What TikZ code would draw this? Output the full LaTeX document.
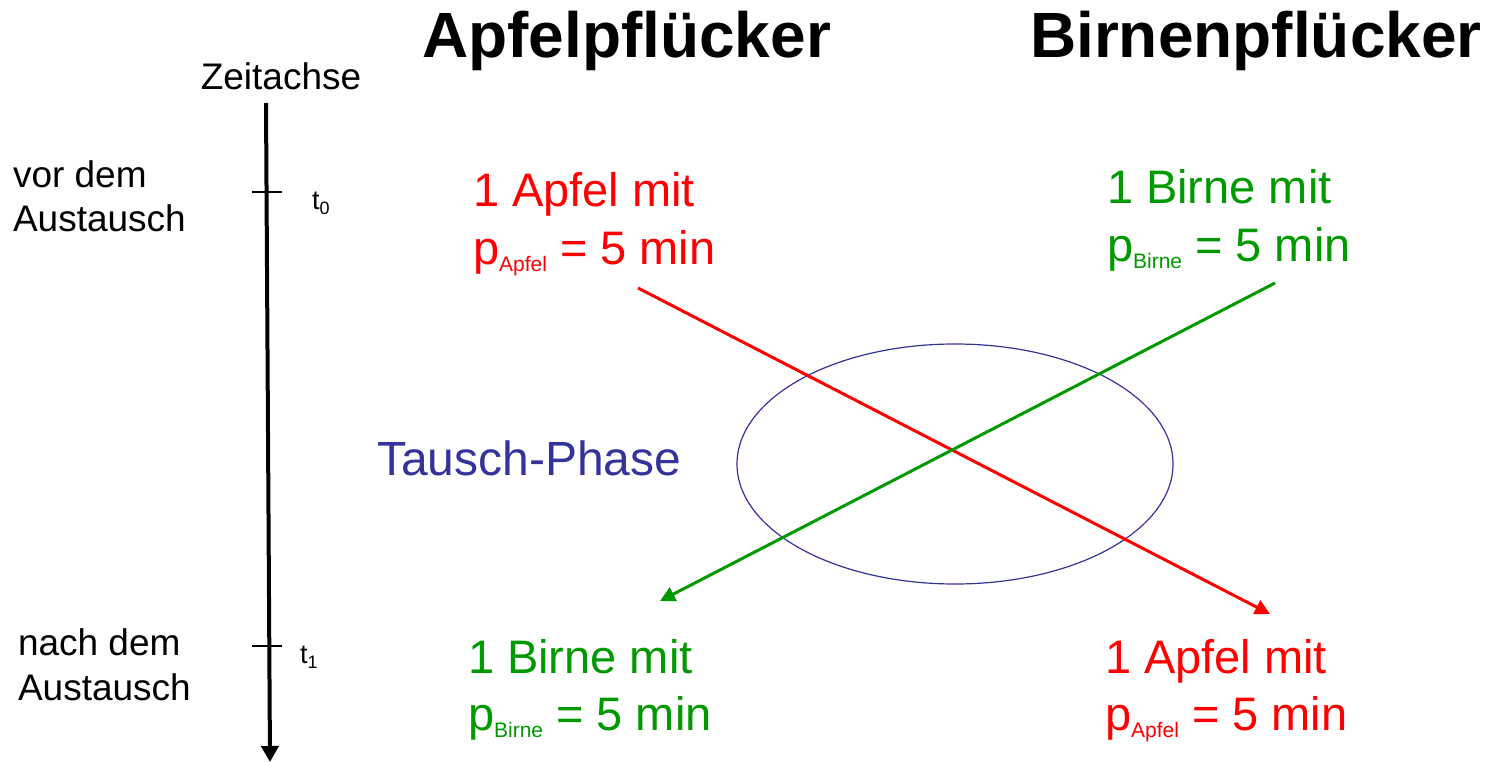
\documentclass[tikz,border=0pt]{standalone}
\usepackage{fontspec}
\setmainfont{Liberation Sans}
\usetikzlibrary{arrows.meta}
\definecolor{myred}{RGB}{255,0,0}
\definecolor{mygreen}{RGB}{0,153,0}
\definecolor{myblue}{RGB}{51,51,153}
\newcommand{\fsz}[1]{\fontsize{#1}{#1}\selectfont}
\newcommand{\subtxt}[1]{\raisebox{-7pt}{\fsz{21}#1}}
\tikzset{
  lbl/.style={anchor=base west, inner sep=0pt, outer sep=0pt},
  title/.style={lbl, font=\fsz{64}\bfseries},
  side/.style={lbl, font=\fsz{37}},
  big/.style={lbl, font=\fsz{47}},
  tlbl/.style={lbl, font=\fsz{27}},
  tick/.style={line width=1.5pt},
  xarrow/.style={line width=3pt, -{Triangle[length=15pt,width=15pt]}}
}
\begin{document}
\begin{tikzpicture}[x=1pt,y=-1pt]
\useasboundingbox (0,0) rectangle (1487,762);
% titles
\node[title] (ta) at (422,58) {Apfelpflücker};
\node[title] (tb) at (1030,58) {Birnenpflücker};
% time axis
\node[lbl, font=\fsz{37}, anchor=base] (za) at (281,90) {Zeitachse};
\coordinate (axtop) at (266,103);
\coordinate (axbot) at (270,762);
\draw[line width=4pt, -{Triangle[length=16pt,width=17pt]}] (axtop) -- (axbot);
\coordinate (t0l) at (252,192); \coordinate (t0r) at (282,192);
\coordinate (t1l) at (252,646); \coordinate (t1r) at (282,646);
\draw[tick] (t0l) -- (t0r);
\draw[tick] (t1l) -- (t1r);
\node[tlbl] (t0) at (312,209) {t\raisebox{-5pt}{\fsz{18}0}};
\node[tlbl] (t1) at (300,663) {t\raisebox{-5pt}{\fsz{18}1}};
\node[side] (v1) at (13,187) {vor dem};
\node[side] (v2) at (13,231) {Austausch};
\node[side] (n1) at (18,655) {nach dem};
\node[side] (n2) at (18,700) {Austausch};
% top texts
\node[big, text=myred] (a1) at (473,207) {1 Apfel mit};
\node[big, text=myred] (a2) at (473,264) {p\subtxt{Apfel} = 5 min};
\node[big, text=mygreen] (b1) at (1107,204) {1 Birne mit};
\node[big, text=mygreen] (b2) at (1107,261) {p\subtxt{Birne} = 5 min};
% bottom texts
\node[big, text=mygreen] (c1) at (468,673) {1 Birne mit};
\node[big, text=mygreen] (c2) at (468,730) {p\subtxt{Birne} = 5 min};
\node[big, text=myred] (d1) at (1105,673) {1 Apfel mit};
\node[big, text=myred] (d2) at (1105,730) {p\subtxt{Apfel} = 5 min};
% ellipse and label
\draw[myblue, line width=1.2pt] (955,464) ellipse [x radius=218, y radius=120];
\node[lbl, font=\fsz{48}, text=myblue] (tp) at (377,475) {Tausch-Phase};
% arrows
\coordinate (rs) at (638,288); \coordinate (re) at (1270,614);
\coordinate (gs) at (1275,283); \coordinate (ge) at (660,601);
\draw[xarrow, myred] (rs) -- (re);
\draw[xarrow, mygreen] (gs) -- (ge);
\end{tikzpicture}
\end{document}
